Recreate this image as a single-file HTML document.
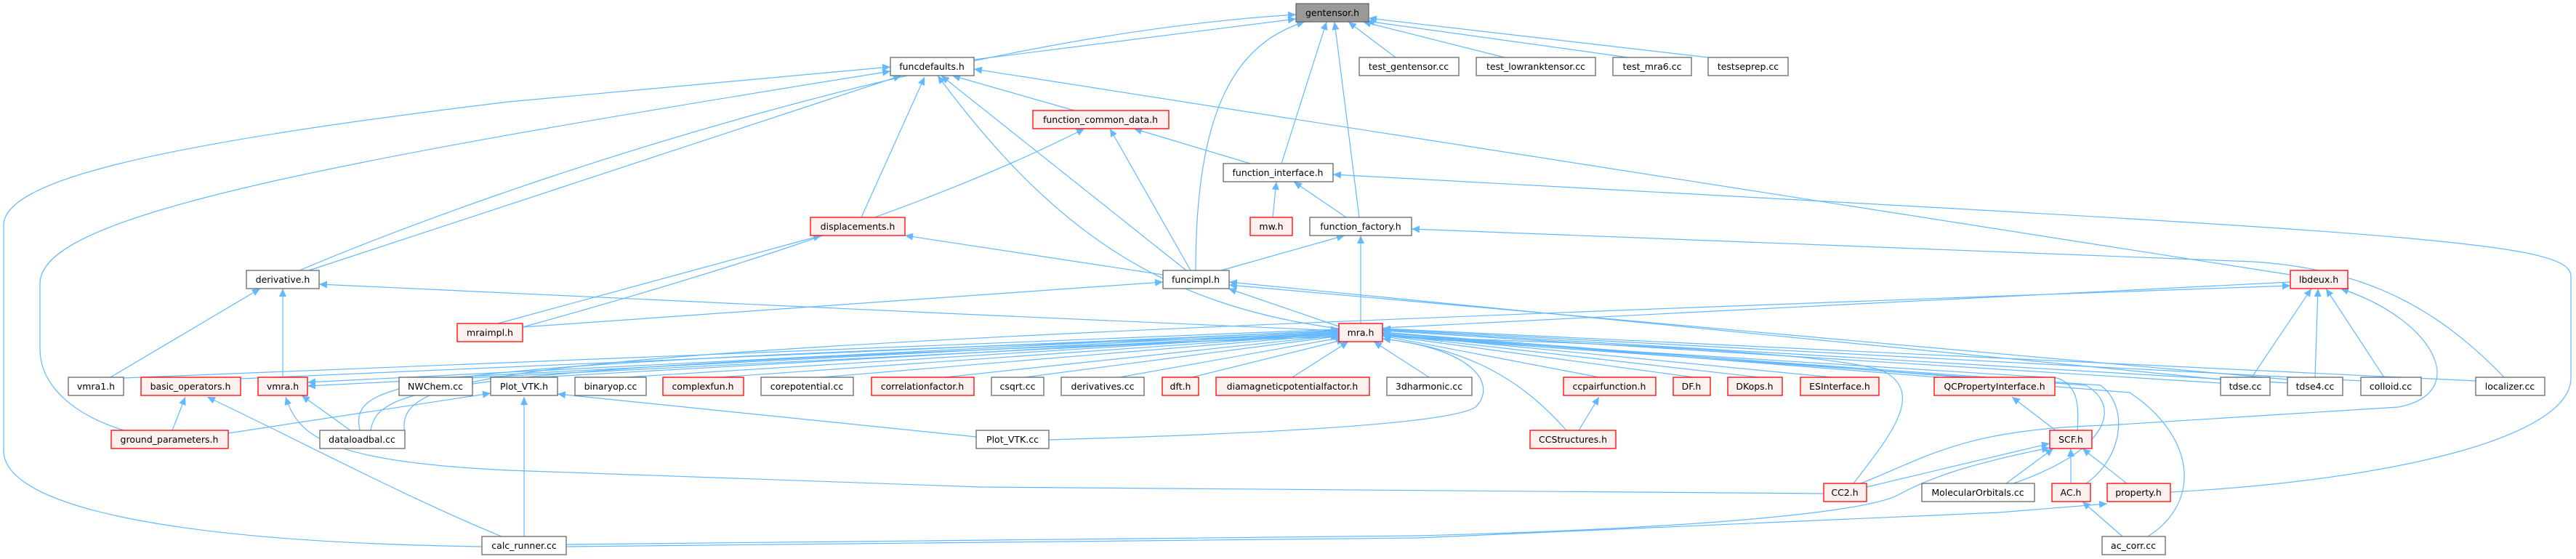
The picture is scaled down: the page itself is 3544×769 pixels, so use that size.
<!DOCTYPE html>
<html><head><meta charset="utf-8"><style>
html,body{margin:0;padding:0;background:#fff;}
svg{display:block;}
text{font-family:"DejaVu Sans","Liberation Sans",sans-serif;font-size:12.5px;fill:#000;text-anchor:middle;}
.n rect{fill:#fff;stroke:#666;stroke-width:1.3;}
.r rect{fill:#fff0f0;stroke:#f00;stroke-width:1.3;}
.g rect{fill:#999;stroke:#666;stroke-width:1.3;}
.e path{fill:none;stroke:#63b8ff;stroke-width:1.2;marker-end:url(#ah);}
</style></head><body>
<svg width="3544" height="769" viewBox="0 0 3544 769" xmlns="http://www.w3.org/2000/svg">
<defs><marker id="ah" markerUnits="userSpaceOnUse" markerWidth="12" markerHeight="10" refX="11" refY="5" orient="auto"><path d="M0,0 L11,5 L0,10 z" fill="#63b8ff"/></marker></defs>
<g class="e">
<path d="M412 372 C700 250,1300 50,1783 20"/>
<path d="M1340 82 L1783 26"/>
<path d="M1645 372 C1645 150,1700 60,1795 30"/>
<path d="M1763 225 L1825 30"/>
<path d="M1870 299 L1836 30"/>
<path d="M1920 79 L1855 30"/>
<path d="M2070 79 L1875 30"/>
<path d="M2240 79 L1880 29"/>
<path d="M2350 79 L1883 25"/>
<path d="M663 752 C200 745,5 690,5 620 L5 310 C5 250,200 200,700 140 L1225 92"/>
<path d="M170 592 C100 570,55 530,55 480 L55 390 C55 300,400 230,1225 98"/>
<path d="M425 372 L1240 104"/>
<path d="M1185 299 L1272 106"/>
<path d="M1478 152 L1310 104"/>
<path d="M1632 372 L1295 104"/>
<path d="M1842 452 C1600 420,1450 320,1290 104"/>
<path d="M3151 378 L1340 95"/>
<path d="M1720 225 L1560 177"/>
<path d="M1638 372 L1527 177"/>
<path d="M719 450 C900 400,1250 300,1492 177"/>
<path d="M1751 299 L1756 250"/>
<path d="M1852 299 L1780 250"/>
<path d="M2986 677 C3300 660,3537 600,3537 520 L3537 380 C3537 330,3300 320,1834 240"/>
<path d="M1680 372 L1850 324"/>
<path d="M1872 445 L1872 324"/>
<path d="M3445 519 C3350 420,3250 370,3100 360 L1942 315"/>
<path d="M685 445 L1130 324"/>
<path d="M1600 378 L1245 324"/>
<path d="M152 519 L358 397"/>
<path d="M389 519 L389 397"/>
<path d="M1842 455 L1300 431 L439 391"/>
<path d="M1842 449 L1690 397"/>
<path d="M719 450 L1600 388"/>
<path d="M3055 522 L1691 388"/>
<path d="M3147 522 L1691 392"/>
<path d="M3098 519 L3180 397"/>
<path d="M3185 519 L3189 397"/>
<path d="M3280 519 L3200 397"/>
<path d="M2560 665 C2650 630,2700 590,2900 585 L3300 560 C3400 540,3350 440,3220 397"/>
<path d="M557 597 C540 500,700 480,3151 393"/>
<path d="M3151 388 L423 526"/>
<path d="M1842 460 L423 531"/>
<path d="M170 520 L1842 453"/>
<path d="M331 521 L1842 455"/>
<path d="M620 519 L1842 456"/>
<path d="M740 519 L1842 457"/>
<path d="M860 519 L1842 458"/>
<path d="M990 519 L1843 459"/>
<path d="M1130 519 L1843 460"/>
<path d="M1300 519 L1844 461"/>
<path d="M1410 519 L1845 462"/>
<path d="M1540 519 L1848 464"/>
<path d="M1640 519 L1850 467"/>
<path d="M1778 519 L1855 470"/>
<path d="M1966 519 L1890 470"/>
<path d="M2200 519 L1902 462"/>
<path d="M2330 519 L1902 461"/>
<path d="M2420 519 L1902 460"/>
<path d="M2520 519 L1902 459"/>
<path d="M2700 519 L1902 457"/>
<path d="M3055 527 L1902 455"/>
<path d="M3150 527 L1902 454"/>
<path d="M3250 524 L1902 453"/>
<path d="M3406 524 L1902 452"/>
<path d="M1443 605 C1800 595,2000 580,2030 560 C2060 530,2030 480,1902 466"/>
<path d="M2155 592 C2100 530,2030 480,1902 466"/>
<path d="M2550 665 C2600 600,2650 540,2590 510 C2500 480,2100 470,1902 462"/>
<path d="M2858 592 C2860 560,2860 530,2830 520 L1902 462"/>
<path d="M2770 665 C2900 620,2920 560,2870 530 L1902 462"/>
<path d="M2870 665 C2920 630,2930 560,2890 530 L1902 460"/>
<path d="M2955 738 C3030 690,3020 600,2930 540 L1902 458"/>
<path d="M495 592 C480 520,550 500,1842 460"/>
<path d="M510 592 C520 530,600 505,1842 463"/>
<path d="M482 592 L415 544"/>
<path d="M2509 679 L1350 670 L700 647 C450 635,410 600,393 546"/>
<path d="M237 592 L255 546"/>
<path d="M690 738 C550 680,420 610,285 546"/>
<path d="M314 596 L675 541"/>
<path d="M721 738 L721 546"/>
<path d="M1343 601 L767 542"/>
<path d="M2172 592 L2200 546"/>
<path d="M2828 592 L2768 546"/>
<path d="M2568 670 L2820 610"/>
<path d="M2760 665 L2825 617"/>
<path d="M2849 665 L2849 617"/>
<path d="M2926 665 L2865 617"/>
<path d="M779 749 L1950 737 C2400 725,2580 700,2613 680 C2650 660,2700 640,2820 616"/>
<path d="M779 752 L1950 740 L2750 705 L2899 693"/>
<path d="M2920 738 L2865 690"/>
</g>
<g class="g"><rect x="1783" y="5" width="100" height="25"/><text x="1833" y="22">gentensor.h</text></g>
<g class="n"><rect x="1225" y="79" width="115" height="25"/><text x="1282" y="96">funcdefaults.h</text></g>
<g class="n"><rect x="1870" y="79" width="137" height="25"/><text x="1938" y="96">test_gentensor.cc</text></g>
<g class="n"><rect x="2031" y="79" width="164" height="25"/><text x="2113" y="96">test_lowranktensor.cc</text></g>
<g class="n"><rect x="2219" y="79" width="108" height="25"/><text x="2273" y="96">test_mra6.cc</text></g>
<g class="n"><rect x="2350" y="79" width="110" height="25"/><text x="2405" y="96">testseprep.cc</text></g>
<g class="r"><rect x="1421" y="152" width="187" height="25"/><text x="1514" y="169">function_common_data.h</text></g>
<g class="n"><rect x="1683" y="225" width="151" height="25"/><text x="1758" y="242">function_interface.h</text></g>
<g class="r"><rect x="1115" y="299" width="130" height="25"/><text x="1180" y="316">displacements.h</text></g>
<g class="r"><rect x="1720" y="299" width="58" height="25"/><text x="1749" y="316">mw.h</text></g>
<g class="n"><rect x="1802" y="299" width="140" height="25"/><text x="1872" y="316">function_factory.h</text></g>
<g class="n"><rect x="339" y="372" width="100" height="25"/><text x="389" y="389">derivative.h</text></g>
<g class="n"><rect x="1600" y="372" width="91" height="25"/><text x="1645" y="389">funcimpl.h</text></g>
<g class="r"><rect x="3151" y="372" width="79" height="25"/><text x="3190" y="389">lbdeux.h</text></g>
<g class="r"><rect x="629" y="445" width="90" height="25"/><text x="674" y="462">mraimpl.h</text></g>
<g class="r"><rect x="1842" y="445" width="60" height="25"/><text x="1872" y="462">mra.h</text></g>
<g class="n"><rect x="94" y="519" width="76" height="25"/><text x="132" y="536">vmra1.h</text></g>
<g class="r"><rect x="194" y="519" width="137" height="25"/><text x="262" y="536">basic_operators.h</text></g>
<g class="r"><rect x="355" y="519" width="68" height="25"/><text x="389" y="536">vmra.h</text></g>
<g class="n"><rect x="549" y="519" width="101" height="25"/><text x="599" y="536">NWChem.cc</text></g>
<g class="n"><rect x="675" y="519" width="92" height="25"/><text x="721" y="536">Plot_VTK.h</text></g>
<g class="n"><rect x="791" y="519" width="98" height="25"/><text x="840" y="536">binaryop.cc</text></g>
<g class="r"><rect x="912" y="519" width="111" height="25"/><text x="967" y="536">complexfun.h</text></g>
<g class="n"><rect x="1047" y="519" width="127" height="25"/><text x="1110" y="536">corepotential.cc</text></g>
<g class="r"><rect x="1199" y="519" width="141" height="25"/><text x="1269" y="536">correlationfactor.h</text></g>
<g class="n"><rect x="1364" y="519" width="72" height="25"/><text x="1400" y="536">csqrt.cc</text></g>
<g class="n"><rect x="1460" y="519" width="114" height="25"/><text x="1517" y="536">derivatives.cc</text></g>
<g class="r"><rect x="1599" y="519" width="50" height="25"/><text x="1624" y="536">dft.h</text></g>
<g class="r"><rect x="1673" y="519" width="211" height="25"/><text x="1778" y="536">diamagneticpotentialfactor.h</text></g>
<g class="n"><rect x="1908" y="519" width="117" height="25"/><text x="1966" y="536">3dharmonic.cc</text></g>
<g class="r"><rect x="2151" y="519" width="127" height="25"/><text x="2214" y="536">ccpairfunction.h</text></g>
<g class="r"><rect x="2302" y="519" width="51" height="25"/><text x="2327" y="536">DF.h</text></g>
<g class="r"><rect x="2377" y="519" width="75" height="25"/><text x="2414" y="536">DKops.h</text></g>
<g class="r"><rect x="2477" y="519" width="108" height="25"/><text x="2531" y="536">ESInterface.h</text></g>
<g class="r"><rect x="2661" y="519" width="166" height="25"/><text x="2744" y="536">QCPropertyInterface.h</text></g>
<g class="n"><rect x="3055" y="519" width="68" height="25"/><text x="3089" y="536">tdse.cc</text></g>
<g class="n"><rect x="3147" y="519" width="76" height="25"/><text x="3185" y="536">tdse4.cc</text></g>
<g class="n"><rect x="3248" y="519" width="83" height="25"/><text x="3289" y="536">colloid.cc</text></g>
<g class="n"><rect x="3406" y="519" width="95" height="25"/><text x="3453" y="536">localizer.cc</text></g>
<g class="r"><rect x="153" y="592" width="161" height="25"/><text x="233" y="609">ground_parameters.h</text></g>
<g class="n"><rect x="440" y="592" width="117" height="25"/><text x="498" y="609">dataloadbal.cc</text></g>
<g class="n"><rect x="1343" y="592" width="100" height="25"/><text x="1393" y="609">Plot_VTK.cc</text></g>
<g class="r"><rect x="2105" y="592" width="118" height="25"/><text x="2164" y="609">CCStructures.h</text></g>
<g class="r"><rect x="2820" y="592" width="58" height="25"/><text x="2849" y="609">SCF.h</text></g>
<g class="r"><rect x="2509" y="665" width="59" height="25"/><text x="2538" y="682">CC2.h</text></g>
<g class="n"><rect x="2644" y="665" width="155" height="25"/><text x="2721" y="682">MolecularOrbitals.cc</text></g>
<g class="r"><rect x="2823" y="665" width="53" height="25"/><text x="2849" y="682">AC.h</text></g>
<g class="r"><rect x="2899" y="665" width="87" height="25"/><text x="2942" y="682">property.h</text></g>
<g class="n"><rect x="663" y="738" width="116" height="25"/><text x="721" y="755">calc_runner.cc</text></g>
<g class="n"><rect x="2892" y="738" width="87" height="25"/><text x="2935" y="755">ac_corr.cc</text></g>
</svg>
</body></html>
